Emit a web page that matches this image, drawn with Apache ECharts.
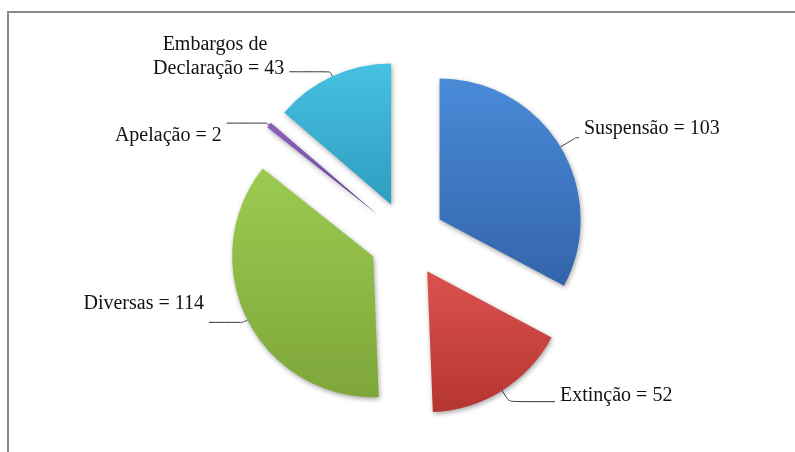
<!DOCTYPE html>
<html>
<head>
<meta charset="utf-8">
<script src="https://cdn.jsdelivr.net/npm/echarts@6/dist/echarts.min.js"></script>
<style>
  html, body { margin: 0; padding: 0; background: #ffffff; }
  #chart { width: 795px; height: 452px; }
</style>
</head>
<body>
<div id="chart"></div>
<script>
// dados do gráfico
const categorias = ['Suspensão', 'Extinção', 'Diversas', 'Apelação', 'Embargos de\nDeclaração'];
const valores = [103, 52, 114, 2, 43];

// cores (claro -> escuro) de cada fatia
const cores = [
  ['#4a8bd8', '#3364aa'],
  ['#db524e', '#b53532'],
  ['#9ccb50', '#7ea63a'],
  ['#8b60ba', '#684294'],
  ['#47c0e2', '#2d9ec0']
];
// guia dos rótulos: comprimento1, comprimento2, padding
const guias = [
  { len: 18, len2: 3, pad: [0, 0, 17, 0] },
  { len: 13, len2: 46, pad: [0, 0, 12, 0] },
  { len: 5, len2: 34, pad: [0, 0, 38, 0] },
  { len: 3, len2: 40, pad: [26, 0, 0, 0] },
  { len: 5, len2: 41, pad: [0, 0, 30, 0] }
];

const myChart = echarts.init(document.getElementById('chart'));

const dados = valores.map((v, i) => ({
  name: categorias[i],
  value: v,
  selected: true,
  itemStyle: {
    color: new echarts.graphic.LinearGradient(0, 0, 0, 1, [
      { offset: 0, color: cores[i][0] },
      { offset: 1, color: cores[i][1] }
    ])
  },
  label: { padding: guias[i].pad },
  labelLine: { length: guias[i].len, length2: guias[i].len2 }
}));

const option = {
  animation: false,
  graphic: [
    {
      type: 'polyline',
      shape: { points: [[8, 452], [8, 12], [795, 12]] },
      style: { stroke: '#8a8a8a', lineWidth: 2, fill: null }
    }
  ],
  series: [
    {
      type: 'pie',
      center: [407, 239],
      radius: 141,
      startAngle: 90,
      clockwise: true,
      selectedMode: 'multiple',
      selectedOffset: 38,
      avoidLabelOverlap: false,
      minShowLabelAngle: 0,
      labelLayout: { hideOverlap: false },
      emphasis: { disabled: true },
      itemStyle: {
        shadowBlur: 5,
        shadowColor: 'rgba(0,0,0,0.35)',
        shadowOffsetX: 1,
        shadowOffsetY: 2
      },
      label: {
        show: true,
        position: 'outside',
        fontFamily: 'Liberation Serif',
        fontSize: 20,
        lineHeight: 24,
        color: '#111111',
        formatter: (p) => {
          const linhas = (p.name + ' = ' + p.value).split('\n');
          if (linhas.length > 1) {
            return '{a|' + linhas[0] + '}\n{b|' + linhas[1] + '}';
          }
          return linhas[0];
        },
        rich: {
          a: { fontFamily: 'Liberation Serif', fontSize: 20, lineHeight: 24, color: '#111111', padding: [0, 17, 0, 0] },
          b: { fontFamily: 'Liberation Serif', fontSize: 20, lineHeight: 24, color: '#111111' }
        }
      },
      labelLine: {
        show: true,
        smooth: 0.2,
        lineStyle: { color: '#333333', width: 1 }
      },
      data: dados
    }
  ]
};

myChart.setOption(option);
</script>
</body>
</html>
